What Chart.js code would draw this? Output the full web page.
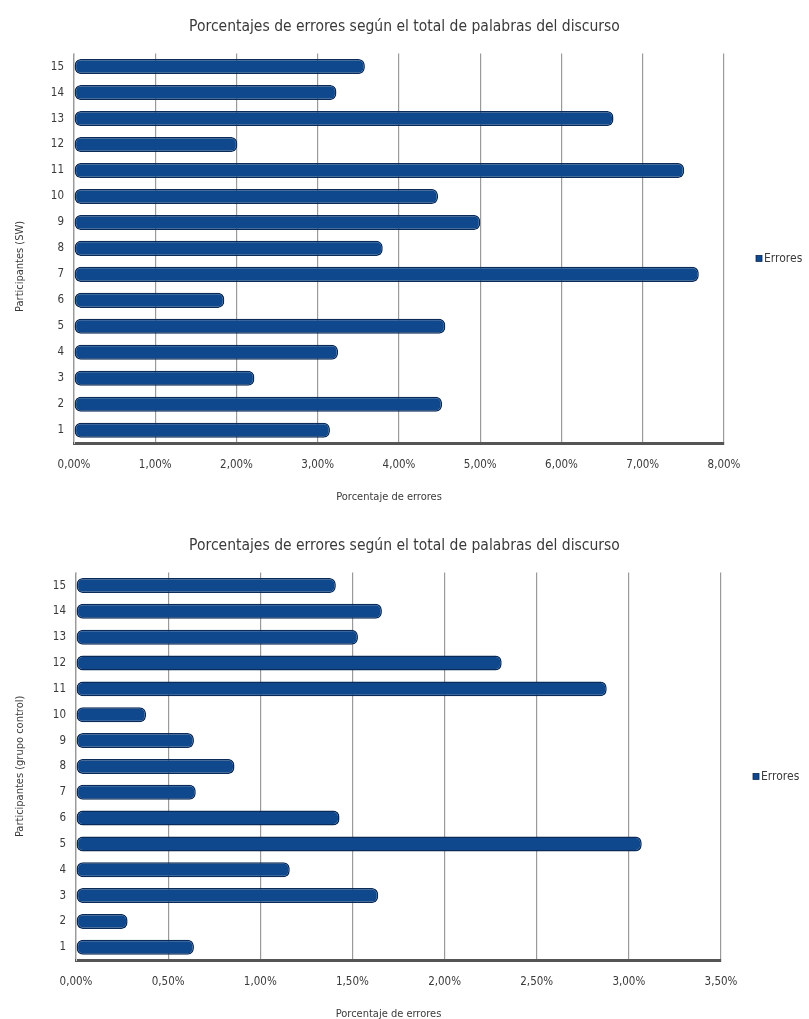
<!DOCTYPE html>
<html>
<head>
<meta charset="utf-8">
<script src="https://cdn.jsdelivr.net/npm/chart.js@4"></script>
<style>
  html, body { margin: 0; padding: 0; background: #fff; }
  .box { position: absolute; left: 0; width: 809px; }
  #b1 { top: 0; height: 520px; }
  #b2 { top: 520px; height: 499px; }
</style>
</head>
<body>
<div class="box" id="b1"><canvas id="c1"></canvas></div>
<div class="box" id="b2"><canvas id="c2"></canvas></div>
<script>
// Participants 1..15
const participants = ['1','2','3','4','5','6','7','8','9','10','11','12','13','14','15'];

// Error percentage per participant, SW group
const erroresSW = [3.15, 4.53, 2.22, 3.25, 4.57, 1.85, 7.69, 3.80, 5.00, 4.48, 7.51, 2.01, 6.64, 3.23, 3.58];

// Error percentage per participant, control group
const erroresControl = [0.64, 0.28, 1.64, 1.16, 3.07, 1.43, 0.65, 0.86, 0.64, 0.38, 2.88, 2.31, 1.53, 1.66, 1.41];

const chartTitle = 'Porcentajes de errores según el total de palabras del discurso';
const xTitle = 'Porcentaje de errores';
const seriesName = 'Errores';

const FONT = '"Liberation Sans Narrow", "DejaVu Sans Condensed", "Liberation Sans", sans-serif';
const TEXT = '#3a3a3a';
const BAR = '#0f488c';

function pct(v) { return v.toFixed(2).replace('.', ',') + '%'; }

// Draws the axis titles and the single-entry legend beside the plot area
const sideTexts = {
  id: 'sideTexts',
  afterDraw(chart, args, opts) {
    const { ctx, chartArea: a } = chart;
    const midY = (a.top + a.bottom) / 2;
    ctx.save();
    ctx.fillStyle = TEXT;
    ctx.textBaseline = 'middle';

    // legend
    const lx = a.right + 32, ly = midY + 10;
    ctx.fillStyle = BAR;
    ctx.fillRect(lx, ly - 3, 6, 6);
    ctx.strokeStyle = '#0a2a57';
    ctx.lineWidth = 0.8;
    ctx.strokeRect(lx, ly - 3, 6, 6);
    ctx.fillStyle = TEXT;
    ctx.font = '12px ' + FONT;
    ctx.textAlign = 'left';
    ctx.fillText(opts.legend, lx + 8, ly);

    // axis titles
    ctx.font = '11px ' + FONT;
    ctx.textAlign = 'center';
    ctx.fillText(opts.x, (a.left + a.right) / 2 + opts.xShift, a.bottom + opts.xGap);
    ctx.translate(opts.yX, midY + opts.yShift);
    ctx.rotate(-Math.PI / 2);
    ctx.fillText(opts.y, 0, 0);
    ctx.restore();
  }
};

function makeChart(id, data, yTitle, xMax, step, cfg) {
  return new Chart(document.getElementById(id), {
    type: 'bar',
    data: {
      labels: participants,
      datasets: [{
        label: seriesName,
        data: data,
        backgroundColor: BAR,
        borderColor: '#0a2a57',
        borderWidth: 1.5,
        borderSkipped: false,
        borderRadius: 6,
        categoryPercentage: 1,
        barPercentage: 0.58
      }]
    },
    plugins: [sideTexts],
    options: {
      indexAxis: 'y',
      responsive: true,
      maintainAspectRatio: false,
      animation: false,
      layout: { padding: { top: cfg.top, left: 0, right: 0, bottom: cfg.bottom } },
      plugins: {
        title: {
          display: true,
          text: chartTitle,
          color: TEXT,
          font: { family: FONT, size: 15.5, weight: 'normal' },
          padding: { top: 0, bottom: cfg.titleGap }
        },
        legend: { display: false },
        tooltip: { enabled: false },
        sideTexts: {
          legend: seriesName,
          x: xTitle,
          y: yTitle,
          xShift: -10,
          xGap: 54,
          yX: 20,
          yShift: cfg.yShift
        }
      },
      scales: {
        x: {
          min: 0,
          max: xMax,
          ticks: {
            stepSize: step,
            color: TEXT,
            font: { family: FONT, size: 11.5 },
            padding: 15,
            callback: (v) => pct(v)
          },
          grid: { color: '#9a9a9a', lineWidth: 1.2, drawTicks: false },
          border: { color: '#555', width: 3 }
        },
        y: {
          reverse: true,
          afterFit: (scale) => { scale.width = cfg.leftW; },
          ticks: {
            color: TEXT,
            font: { family: FONT, size: 11.5 },
            padding: 10
          },
          grid: { display: false, drawTicks: false },
          border: { color: '#cfcfcf', width: 1 }
        },
        // empty right-hand band that keeps room for the legend
        side: {
          type: 'linear',
          position: 'right',
          display: true,
          afterFit: (scale) => { scale.width = cfg.rightW; },
          ticks: { display: false },
          grid: { display: false, drawTicks: false },
          border: { display: false }
        }
      }
    }
  });
}

makeChart('c1', erroresSW, 'Participantes (SW)', 8, 1,
  { top: 18, bottom: 33, titleGap: 17, leftW: 74, rightW: 85, yShift: 18 });
makeChart('c2', erroresControl, 'Participantes (grupo control)', 3.5, 0.5,
  { top: 17, bottom: 15, titleGap: 17, leftW: 76, rightW: 88, yShift: 0 });
</script>
</body>
</html>
